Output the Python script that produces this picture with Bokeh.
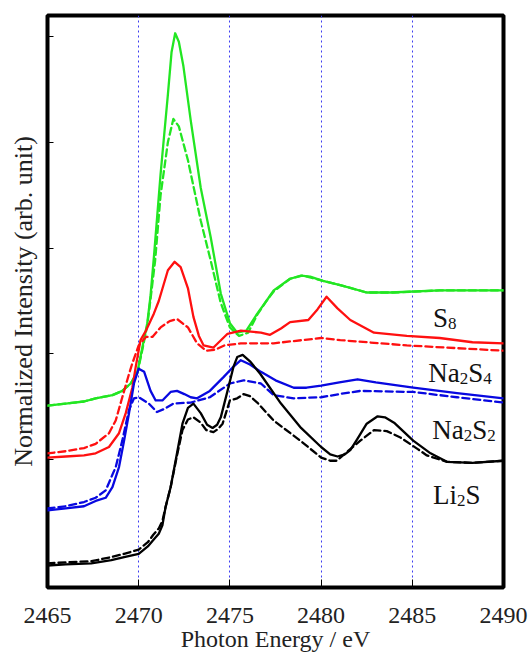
from bokeh.plotting import figure
from bokeh.models import Label, FixedTicker
from bokeh.embed import file_html
from bokeh.resources import INLINE

# ---------------- data ----------------
x_ticks = [2465, 2470, 2475, 2480, 2485, 2490]
y_ticks = [0, 1, 2, 3, 4, 5]

s8_x = [2465, 2466, 2467, 2467.64, 2468.56, 2469.1, 2469.56, 2469.93, 2470.2, 2470.47, 2470.65,
        2470.85, 2471.2, 2471.6, 2471.8, 2472.0, 2472.2, 2472.45, 2472.85, 2473.4, 2473.95,
        2474.5, 2475.0, 2475.4, 2475.9, 2476.5, 2477.0, 2477.4, 2478.3, 2478.9, 2479.4,
        2480.1, 2481.05, 2482.5, 2483.8, 2486.5, 2490]
s8_y = [1.51, 1.53, 1.55, 1.58, 1.61, 1.65, 1.72, 1.83, 2.06, 2.29, 2.55,
        2.95, 3.70, 4.45, 4.85, 5.03, 4.95, 4.72, 4.21, 3.57, 3.10,
        2.57, 2.29, 2.20, 2.22, 2.38, 2.50, 2.60, 2.71, 2.74, 2.73,
        2.69, 2.65, 2.58, 2.58, 2.60, 2.60]

s8d_x = [2465, 2466, 2467, 2467.64, 2468.56, 2469.1, 2469.56, 2469.93, 2470.2, 2470.47, 2470.65,
         2470.9, 2471.2, 2471.6, 2471.9, 2472.2, 2472.7, 2473.4, 2473.95, 2474.5, 2475.0,
         2475.5, 2476.0, 2476.5, 2477.0, 2477.4, 2478.3, 2479.0, 2480.1, 2481.05, 2482.5,
         2484.0, 2486.5, 2490]
s8d_y = [1.51, 1.53, 1.55, 1.58, 1.61, 1.65, 1.72, 1.82, 2.04, 2.27, 2.52,
         2.88, 3.50, 4.00, 4.22, 4.15, 3.83, 3.26, 2.88, 2.48, 2.25,
         2.17, 2.20, 2.37, 2.50, 2.59, 2.71, 2.74, 2.69, 2.65, 2.58,
         2.58, 2.60, 2.60]

na2s4_x = [2465, 2466, 2467, 2467.64, 2468.37, 2468.92, 2469.29, 2469.65, 2469.83, 2470.1, 2470.4,
           2470.83, 2471.1, 2471.6, 2471.97, 2472.3, 2472.7, 2473.0, 2473.3, 2473.56, 2474.1,
           2474.87, 2475.6, 2476.7, 2477.2, 2477.8, 2478.3, 2479.3, 2479.8, 2480.3, 2480.9,
           2481.6, 2482.9, 2484.7, 2486.5, 2488.3, 2490]
na2s4_y = [1.02, 1.03, 1.04, 1.06, 1.12, 1.25, 1.44, 1.68, 1.87, 2.13, 2.22,
           2.38, 2.50, 2.79, 2.87, 2.82, 2.62, 2.35, 2.17, 2.08, 2.06,
           2.19, 2.22, 2.20, 2.18, 2.24, 2.30, 2.32, 2.42, 2.54, 2.43,
           2.32, 2.20, 2.17, 2.15, 2.11, 2.10]

na2s4d_x = [2465, 2466, 2467, 2467.64, 2468.37, 2468.74, 2469.1, 2469.47, 2469.65, 2470.0, 2470.4,
            2470.75, 2471.2, 2471.7, 2472.1, 2472.7, 2473.2, 2473.7, 2474.2, 2474.7, 2475.6,
            2477.4, 2480.0, 2481.05, 2484.7, 2490]
na2s4d_y = [1.06, 1.08, 1.11, 1.15, 1.25, 1.37, 1.59, 1.81, 1.91, 2.08, 2.16,
            2.16, 2.25, 2.31, 2.33, 2.25, 2.10, 2.03, 2.04, 2.08, 2.10,
            2.10, 2.15, 2.13, 2.08, 2.03]

na2s2_x = [2465, 2466, 2467, 2467.64, 2468.19, 2468.56, 2468.92, 2469.2, 2469.47, 2469.74, 2470.0,
           2470.3, 2470.65, 2470.93, 2471.3, 2471.75, 2472.1, 2472.5, 2472.85, 2473.2, 2473.9,
           2474.65, 2475.2, 2475.6, 2476.1, 2476.7, 2477.5, 2478.5, 2479.2, 2480.0, 2481.0,
           2482.0, 2483.0, 2485.05, 2487.45, 2490]
na2s2_y = [0.52, 0.54, 0.56, 0.61, 0.64, 0.74, 0.93, 1.18, 1.44, 1.72, 1.86,
           1.83, 1.65, 1.56, 1.56, 1.64, 1.65, 1.62, 1.59, 1.58, 1.65,
           1.78, 1.88, 1.94, 1.90, 1.83, 1.75, 1.68, 1.68, 1.70, 1.73,
           1.76, 1.73, 1.68, 1.63, 1.58]

na2s2d_x = [2465, 2466, 2467, 2467.64, 2468.19, 2468.74, 2469.1, 2469.47, 2469.74, 2470.0, 2470.56,
            2471.0, 2471.4, 2471.9, 2472.85, 2473.9, 2475.0, 2475.75, 2476.7, 2477.4, 2478.5,
            2480.0, 2481.0, 2482.15, 2485.05, 2487.45, 2490]
na2s2d_y = [0.54, 0.56, 0.60, 0.64, 0.71, 0.93, 1.18, 1.47, 1.58, 1.59, 1.53,
            1.45, 1.48, 1.53, 1.54, 1.59, 1.72, 1.75, 1.72, 1.61, 1.58,
            1.59, 1.62, 1.65, 1.64, 1.59, 1.54]

li2s_x = [2465, 2466, 2467.4, 2468.5, 2469.2, 2470.0, 2470.5, 2470.8, 2471.1, 2471.3, 2471.47,
          2471.75, 2472.1, 2472.4, 2472.7, 2473.0, 2473.4, 2473.75, 2474.05, 2474.3, 2474.5,
          2474.87, 2475.2, 2475.4, 2475.7, 2476.1, 2476.67, 2477.8, 2478.9, 2480.0, 2480.5,
          2480.9, 2481.3, 2481.6, 2482.0, 2482.5, 2483.1, 2483.5, 2484.0, 2485.05, 2486.0,
          2486.9, 2488.3, 2490]
li2s_y = [0.00, 0.01, 0.02, 0.05, 0.08, 0.11, 0.18, 0.24, 0.30, 0.38, 0.55,
          0.74, 1.06, 1.34, 1.49, 1.53, 1.44, 1.33, 1.30, 1.33, 1.40,
          1.65, 1.88, 1.97, 1.99, 1.93, 1.81, 1.53, 1.30, 1.12, 1.05,
          1.03, 1.05, 1.09, 1.20, 1.34, 1.41, 1.40, 1.35, 1.18, 1.06,
          0.98, 0.97, 0.99]

li2sd_x = [2465, 2466, 2467.4, 2468.5, 2469.2, 2470.0, 2470.5, 2470.8, 2471.1, 2471.3, 2471.47,
           2471.75, 2472.1, 2472.4, 2472.7, 2473.0, 2473.4, 2473.7, 2474.1, 2474.35, 2474.6,
           2475.0, 2475.4, 2475.75, 2476.1, 2476.5, 2477.4, 2478.86, 2480.0, 2480.5, 2480.85,
           2481.2, 2481.6, 2482.15, 2482.9, 2483.6, 2484.35, 2485.3, 2485.8, 2486.9, 2488.3,
           2490]
li2sd_y = [0.02, 0.03, 0.04, 0.08, 0.11, 0.15, 0.22, 0.29, 0.35, 0.42, 0.55,
           0.74, 1.04, 1.28, 1.38, 1.40, 1.35, 1.28, 1.26, 1.29, 1.34,
           1.56, 1.58, 1.62, 1.60, 1.54, 1.37, 1.18, 1.02, 0.99, 0.99,
           1.04, 1.10, 1.18, 1.28, 1.27, 1.21, 1.10, 1.04, 0.98, 0.97,
           0.99]

# labels: (parts, anchor x, anchor baseline y); parts are (text, is_subscript)
label_parts = [
    [("S", False), ("8", True)],
    [("Na", False), ("2", True), ("S", False), ("4", True)],
    [("Na", False), ("2", True), ("S", False), ("2", True)],
    [("Li", False), ("2", True), ("S", False)],
]
label_x = [2486.14, 2485.87, 2486.09, 2486.14]
label_y = [2.335, 1.815, 1.276, 0.662]

FONT = "Liberation Serif"
GREEN, RED, BLUE, BLACK = "#22e622", "#ff1010", "#0808e0", "#000000"

p = figure(width=530, height=661, x_range=(2465, 2490), y_range=(-0.208, 5.198),
           output_backend="svg", toolbar_location=None,
           min_border_left=47, min_border_right=27, min_border_top=15, min_border_bottom=74)
p.background_fill_color = "white"
p.border_fill_color = "white"
p.outline_line_color = "black"
p.outline_line_width = 4

# axes
p.xaxis.ticker = FixedTicker(ticks=x_ticks)
p.xaxis.axis_line_color = None
p.xaxis.major_tick_in = 8
p.xaxis.major_tick_out = 0
p.xaxis.minor_tick_line_color = None
p.xaxis.major_tick_line_color = "black"
p.xaxis.major_label_standoff = 20
p.xaxis.major_label_text_font = FONT
p.xaxis.major_label_text_font_size = "24px"
p.xaxis.major_label_text_color = "#222222"
p.xaxis.axis_label = "Photon Energy / eV"
p.xaxis.axis_label_text_font = FONT
p.xaxis.axis_label_text_font_size = "24px"
p.xaxis.axis_label_text_font_style = "normal"
p.xaxis.axis_label_text_color = "#222222"
p.xaxis.axis_label_standoff = 0

p.yaxis.ticker = FixedTicker(ticks=y_ticks)
p.yaxis.axis_line_color = None
p.yaxis.major_tick_in = 6
p.yaxis.major_tick_out = 0
p.yaxis.minor_tick_line_color = None
p.yaxis.major_label_overrides = {t: "" for t in y_ticks}
p.yaxis.major_label_standoff = 0
p.yaxis.axis_label = "Normalized Intensity (arb. unit)"
p.yaxis.axis_label_text_font = FONT
p.yaxis.axis_label_text_font_size = "26px"
p.yaxis.axis_label_text_font_style = "normal"
p.yaxis.axis_label_text_color = "#222222"
p.yaxis.axis_label_standoff = 10

p.xgrid.ticker = FixedTicker(ticks=x_ticks)
p.xgrid.grid_line_color = "#3c3cf0"
p.xgrid.grid_line_width = 1
p.xgrid.grid_line_dash = "2 3"
p.ygrid.visible = False

lw = 2.3
dash = "7 4"
series = [
    (s8d_x, s8d_y, GREEN, dash), (s8_x, s8_y, GREEN, "solid"),
    (na2s4d_x, na2s4d_y, RED, dash), (na2s4_x, na2s4_y, RED, "solid"),
    (na2s2d_x, na2s2d_y, BLUE, dash), (na2s2_x, na2s2_y, BLUE, "solid"),
    (li2sd_x, li2sd_y, BLACK, dash), (li2s_x, li2s_y, BLACK, "solid"),
]
for xs, ys, c, d in series:
    p.line(xs, ys, line_color=c, line_width=lw, line_dash=d, line_join="round", line_cap="round")

# species labels with subscripts
MAIN_PX, SUB_PX = 27, 17
widths = {"S": 0.556, "Na": 1.166, "Li": 0.889}
for parts, lx, ly in zip(label_parts, label_x, label_y):
    off = 0.0
    for txt, sub in parts:
        size = SUB_PX if sub else MAIN_PX
        p.add_layout(Label(x=lx, y=ly, x_offset=off, y_offset=-5 if sub else 0,
                           text=txt, text_font=FONT, text_font_size=f"{size}px",
                           text_align="left", text_baseline="alphabetic", text_color="#111111"))
        off += 0.5 * SUB_PX if sub else widths[txt] * MAIN_PX

open("out.html", "w").write(file_html(p, INLINE))
